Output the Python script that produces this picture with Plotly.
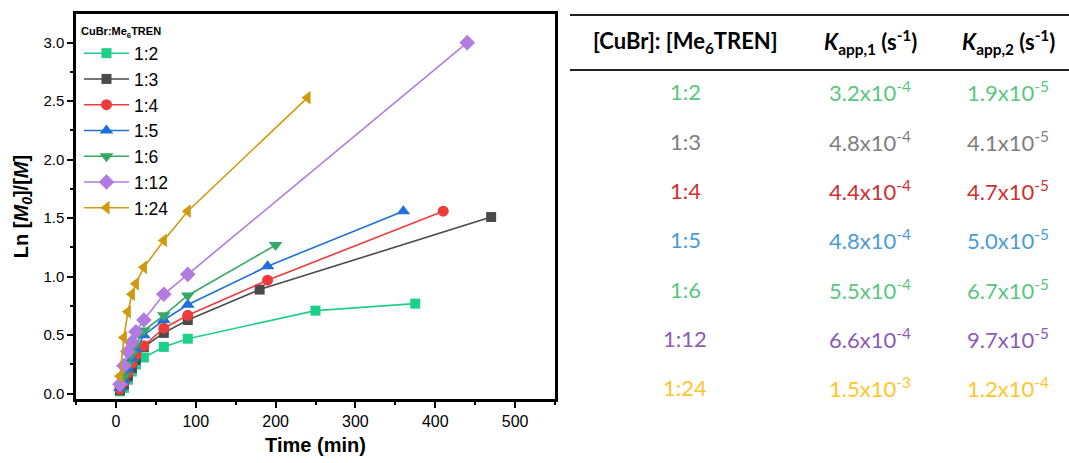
import plotly.graph_objects as go

# ---------------- data ----------------
ratios = ["1:2", "1:3", "1:4", "1:5", "1:6", "1:12", "1:24"]

t_12 = [5, 10, 15, 20, 25, 35, 60, 90, 250, 375]
y_12 = [0.02, 0.05, 0.12, 0.19, 0.25, 0.31, 0.40, 0.47, 0.71, 0.77]

t_13 = [5, 10, 15, 20, 25, 35, 60, 90, 180, 470]
y_13 = [0.03, 0.08, 0.15, 0.22, 0.29, 0.40, 0.52, 0.63, 0.89, 1.51]

t_14 = [5, 10, 15, 20, 25, 35, 60, 90, 190, 410]
y_14 = [0.04, 0.10, 0.18, 0.26, 0.33, 0.41, 0.56, 0.67, 0.97, 1.56]

t_15 = [5, 10, 15, 20, 25, 35, 60, 90, 190, 360]
y_15 = [0.05, 0.12, 0.21, 0.30, 0.38, 0.50, 0.63, 0.76, 1.09, 1.56]

t_16 = [5, 10, 15, 20, 25, 35, 60, 90, 200]
y_16 = [0.06, 0.15, 0.25, 0.34, 0.42, 0.54, 0.67, 0.84, 1.27]

t_112 = [5, 10, 15, 20, 25, 35, 60, 90, 440]
y_112 = [0.08, 0.24, 0.36, 0.44, 0.53, 0.63, 0.85, 1.02, 3.00]

t_124 = [5, 10, 15, 20, 25, 35, 60, 90, 240]
y_124 = [0.15, 0.48, 0.70, 0.85, 0.94, 1.08, 1.31, 1.56, 2.53]

# table values
table_ratio = ["1:2", "1:3", "1:4", "1:5", "1:6", "1:12", "1:24"]
k1_mant = ["3.2", "4.8", "4.4", "4.8", "5.5", "6.6", "1.5"]
k1_exp = ["-4", "-4", "-4", "-4", "-4", "-4", "-3"]
k2_mant = ["1.9", "4.1", "4.7", "5.0", "6.7", "9.7", "1.2"]
k2_exp = ["-5", "-5", "-5", "-5", "-5", "-5", "-4"]

# ---------------- styles ----------------
series = [
    (t_12, y_12, "#1dd08a", "square", 10),
    (t_13, y_13, "#4a4a4a", "square", 10),
    (t_14, y_14, "#ef3b3b", "circle", 11),
    (t_15, y_15, "#1f6fdc", "triangle-up", 12),
    (t_16, y_16, "#36a865", "triangle-down", 12),
    (t_112, y_112, "#b27be0", "diamond", 12),
    (t_124, y_124, "#cf9a0c", "triangle-left", 12),
]
table_colors = ["#5cc57f", "#7f7f7f", "#d0302f", "#4a9bd6",
                "#5cc57f", "#8b5cb6", "#ffc52a"]

W, H = 1069, 463
L, R, T, B = 76, 0, 14, 64
X0, X1, Y0, Y1 = 76, 555, 14, 399  # plot area in px


def px2paper_x(px):
    return (px - L) / (W - L - R)


def px2paper_y(py):
    return (H - B - py) / (H - T - B)


fig = go.Figure()
for (t, y, c, sym, ms), name in zip(series, ratios):
    fig.add_trace(go.Scatter(
        x=t, y=y, name=name, mode="lines+markers",
        line=dict(color=c, width=1.6),
        marker=dict(symbol=sym, size=ms, color=c, line=dict(width=0)),
    ))

xdom_end = px2paper_x(X1)
fig.update_layout(
    width=W, height=H,
    margin=dict(l=L, r=R, t=T, b=B),
    paper_bgcolor="white", plot_bgcolor="white",
    showlegend=True,
    legend=dict(
        x=px2paper_x(79), y=px2paper_y(21), xanchor="left", yanchor="top",
        bgcolor="rgba(0,0,0,0)",
        font=dict(family="Arial", size=17.5, color="black"),
        title=dict(text="<b>CuBr:Me<sub>6</sub>TREN</b>",
                   font=dict(family="Arial", size=11, color="black")),
        tracegroupgap=0, itemwidth=45,
    ),
    xaxis=dict(
        domain=[0, xdom_end], range=[-50, 550],
        tickmode="array", tickvals=[0, 100, 200, 300, 400, 500],
        ticks="outside", ticklen=6, tickwidth=2, tickcolor="black",
        minor=dict(tickmode="array", tickvals=[-50, 50, 150, 250, 350, 450, 550],
                   ticks="outside", ticklen=3, tickwidth=2, tickcolor="black"),
        showline=True, linecolor="black", linewidth=2.5, mirror=True,
        showgrid=False, zeroline=False,
        tickfont=dict(family="Arial", size=16, color="black"),
        tickprefix="<b>", ticksuffix="</b>",
        title=dict(text="<b>Time (min)</b>",
                   font=dict(family="Arial", size=20, color="black"),
                   standoff=10),
    ),
    yaxis=dict(
        range=[-0.045, 3.245],
        tickmode="array", tickvals=[0, 0.5, 1.0, 1.5, 2.0, 2.5, 3.0],
        ticktext=["0.0", "0.5", "1.0", "1.5", "2.0", "2.5", "3.0"],
        ticks="outside", ticklen=6, tickwidth=2, tickcolor="black",
        minor=dict(tickmode="array", tickvals=[0.25, 0.75, 1.25, 1.75, 2.25, 2.75, 3.25],
                   ticks="outside", ticklen=3, tickwidth=2, tickcolor="black"),
        showline=True, linecolor="black", linewidth=2.5, mirror=True,
        showgrid=False, zeroline=False,
        tickfont=dict(family="Arial", size=15, color="black"),
        tickprefix="<b>", ticksuffix="</b>",
        title=dict(text="<b>Ln [<i>M<sub>0</sub></i>]/[<i>M</i>]</b>",
                   font=dict(family="Arial", size=20, color="black"),
                   standoff=10),
    ),
)

# ---------------- table ----------------
tfont = "Lato"
col_x = [685, 870, 1008]
hdr_y = 42
row_y0, row_dy = 92, 49.3

shapes = []
for py in (15, 70):
    shapes.append(dict(type="line", xref="paper", yref="paper",
                       x0=px2paper_x(570), x1=px2paper_x(1069),
                       y0=px2paper_y(py), y1=px2paper_y(py),
                       line=dict(color="#222222", width=2)))
fig.update_layout(shapes=shapes)

headers = ["<b>[CuBr]: [Me<sub>6</sub>TREN]</b>",
           "<b><i>K</i><sub>app,1</sub> (s<sup>-1</sup>)</b>",
           "<b><i>K</i><sub>app,2</sub> (s<sup>-1</sup>)</b>"]
for cx, txt in zip(col_x, headers):
    fig.add_annotation(x=px2paper_x(cx), y=px2paper_y(hdr_y), xref="paper", yref="paper",
                       text=txt, showarrow=False, xanchor="center", yanchor="middle",
                       font=dict(family=tfont, size=22, color="black"))

for i, (r, m1, e1, m2, e2, c) in enumerate(zip(table_ratio, k1_mant, k1_exp,
                                                k2_mant, k2_exp, table_colors)):
    py = row_y0 + i * row_dy
    cells = [r, f"{m1}x10<sup>{e1}</sup>", f"{m2}x10<sup>{e2}</sup>"]
    for cx, txt in zip(col_x, cells):
        fig.add_annotation(x=px2paper_x(cx), y=px2paper_y(py), xref="paper", yref="paper",
                           text=txt, showarrow=False, xanchor="center", yanchor="middle",
                           font=dict(family=tfont, size=22, color=c))

fig.write_html("out.html")
